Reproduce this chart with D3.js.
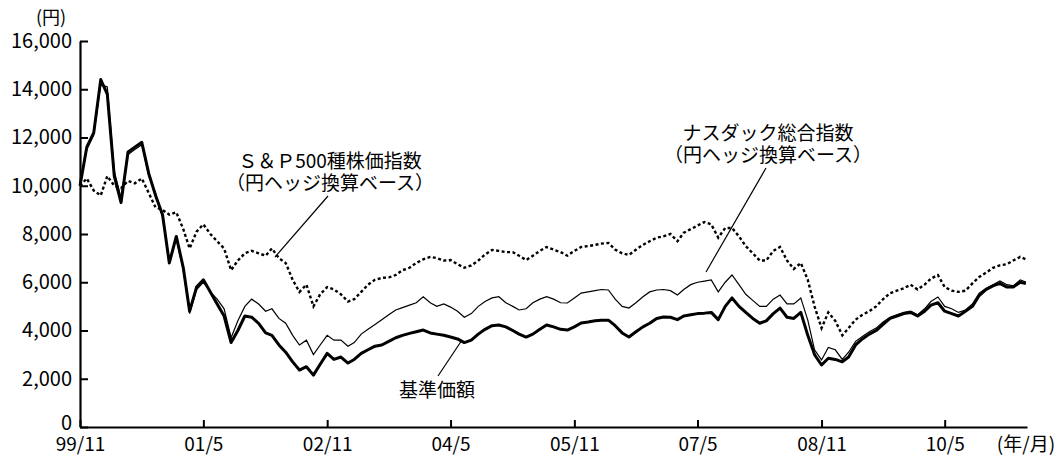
<!DOCTYPE html>
<html>
<head>
<meta charset="utf-8">
<script src="https://cdn.jsdelivr.net/npm/d3@7"></script>
<style>
  body { margin: 0; background: #fff; }
  svg { display: block; font-family: "Noto Sans CJK JP", "Noto Sans", sans-serif; }
</style>
</head>
<body>
<div id="canvas"></div>
<script>
// monthly values, from 1999/11 to 2011/4 plus the last day
let fund = [
  10000, 11600, 12200, 14400, 13800, 10400, 9300, 11400, 11600, 11800, 10500, 9600,
  8800, 6800, 7900, 6600, 4800, 5800, 6100, 5600, 5100, 4600, 3500, 4000,
  4600, 4550, 4300, 3900, 3800, 3400, 3100, 2700, 2360, 2500, 2150, 2600,
  3050, 2800, 2900, 2650, 2800, 3050, 3200, 3350, 3400, 3550, 3700, 3800,
  3880, 3950, 4020, 3900, 3850, 3800, 3730, 3650, 3500, 3600, 3850, 4050,
  4200, 4230, 4150, 4000, 3850, 3730, 3850, 4050, 4230, 4150, 4050, 4020,
  4150, 4310, 4350, 4400, 4420, 4430, 4200, 3900, 3730, 3950, 4150, 4300,
  4500, 4560, 4550, 4450, 4600, 4650, 4700, 4720, 4750, 4450, 5000, 5350,
  5000, 4750, 4500, 4300, 4400, 4700, 4930, 4550, 4500, 4750, 3800, 3000,
  2570, 2850, 2800, 2700, 2900, 3400, 3650, 3850, 4000, 4250, 4500, 4600,
  4700, 4750, 4600, 4800, 5050, 5150, 4800, 4700, 4600, 4800, 5000, 5450,
  5700, 5850, 5950, 5800, 5800, 6000, 5950
]
let nasdaq = [
  10000, 11500, 12100, 14200, 14100, 10600, 9500, 11300, 11500, 11700, 10400, 9700,
  8700, 6900, 7800, 6500, 4700, 5700, 6000, 5600, 5300, 4900, 3700, 4400,
  5000, 5300, 5100, 4800, 4900, 4500, 4300, 3800, 3400, 3600, 3000, 3400,
  3800, 3600, 3600, 3350, 3500, 3850, 4050, 4250, 4450, 4650, 4850, 4950,
  5050, 5150, 5400, 5150, 5000, 5100, 4970, 4800, 4550, 4700, 5000, 5200,
  5350, 5400, 5150, 5000, 4850, 4900, 5150, 5300, 5400, 5300, 5150, 5140,
  5350, 5550, 5600, 5650, 5700, 5680, 5300, 5000, 4930, 5150, 5400, 5600,
  5680, 5700, 5650, 5470, 5700, 5900, 6000, 6050, 6100, 5600, 6000, 6300,
  5900, 5500, 5250, 5000, 5000, 5300, 5470, 5100, 5100, 5350, 4430, 3200,
  2780, 3300, 3200, 2800, 3100, 3550, 3750, 3950, 4100, 4350, 4550, 4650,
  4750, 4800, 4650, 4900, 5200, 5390, 5000, 4900, 4750, 4850, 5100, 5550,
  5750, 5900, 6050, 5900, 5850, 6100, 6010
]
let sp500 = [
  10000, 10300, 9800, 9600, 10400, 10000, 9900, 10200, 10100, 10300, 9700, 9100,
  9000, 8800, 8900, 8200, 7400, 8100, 8400, 8000, 7700, 7400, 6500, 6900,
  7200, 7300, 7200, 7100, 7400, 7000, 6800, 6100, 5600, 5900, 5000, 5500,
  5800, 5700, 5500, 5200, 5300, 5600, 5900, 6100, 6180, 6200, 6300, 6500,
  6600, 6800, 6950, 7050, 7000, 6900, 6920, 6750, 6600, 6700, 6900, 7150,
  7340, 7300, 7250, 7250, 7100, 6920, 7100, 7300, 7460, 7350, 7250, 7100,
  7300, 7460, 7500, 7550, 7600, 7630, 7350, 7200, 7130, 7350, 7550, 7700,
  7850, 7900, 8000, 7700, 8050, 8200, 8350, 8500, 8400, 7850, 8250, 8250,
  7900, 7500, 7200, 6900, 6900, 7300, 7460, 6900, 6550, 6800, 6100, 5000,
  4100, 4750, 4400, 3800, 4100, 4450, 4650, 4800, 5000, 5300, 5550, 5650,
  5750, 5900, 5700, 5900, 6150, 6300, 5800, 5650, 5600, 5650, 5950, 6220,
  6400, 6600, 6700, 6750, 6900, 7050, 6950
]
let yTicks = [0, 2000, 4000, 6000, 8000, 10000, 12000, 14000, 16000]
let xTickDates = ['1999-11', '2001-05', '2002-11', '2004-05', '2005-11', '2007-05', '2008-11', '2010-05']
let xTickLabels = ['99/11', '01/5', '02/11', '04/5', '05/11', '07/5', '08/11', '10/5']

let width = 1064
let height = 457
let mLeft = 80, mRight = 1027, mTop = 41, mBottom = 427

let parseMonth = d3.timeParse('%Y-%m')
let start = parseMonth('1999-11')
let dates = fund.map((d, i) => i < fund.length - 1 ? d3.timeMonth.offset(start, i) : new Date(2011, 3, 26))

let x = d3.scaleTime()
    .domain([start, parseMonth('2011-05')])
    .range([mLeft, mRight])
let y = d3.scaleLinear()
    .domain([0, 16000])
    .range([mBottom, mTop])

let svg = d3.select('#canvas').append('svg')
    .attr('width', width)
    .attr('height', height)

let line = d3.line()
    .x((d, i) => x(dates[i]))
    .y((d) => y(d))

// series
svg.append('path')
    .attr('d', line(sp500))
    .attr('fill', 'none')
    .attr('stroke', '#000')
    .attr('stroke-width', 2.4)
    .attr('stroke-dasharray', '3,2.5')

svg.append('path')
    .attr('d', line(nasdaq))
    .attr('fill', 'none')
    .attr('stroke', '#000')
    .attr('stroke-width', 1.2)

svg.append('path')
    .attr('d', line(fund))
    .attr('fill', 'none')
    .attr('stroke', '#000')
    .attr('stroke-width', 3)
    .attr('stroke-linejoin', 'round')

// axes
let fmt = d3.format(',')
let yAxis = d3.axisLeft(y)
    .tickValues(yTicks)
    .tickFormat((d) => fmt(d))
    .tickSizeInner(-8)
    .tickSizeOuter(0)
    .tickPadding(8)
let xAxis = d3.axisBottom(x)
    .tickValues(xTickDates.map(parseMonth))
    .tickFormat((d, i) => xTickLabels[i])
    .tickSizeInner(-7)
    .tickSizeOuter(0)
    .tickPadding(11)

let gy = svg.append('g')
    .attr('transform', 'translate(' + mLeft + ',0)')
    .call(yAxis)
let gx = svg.append('g')
    .attr('transform', 'translate(0,' + mBottom + ')')
    .call(xAxis)

svg.selectAll('.domain').attr('stroke-width', 2.2)
svg.selectAll('.tick line').attr('stroke-width', 2)
svg.selectAll('.tick text')
    .attr('font-family', '"Noto Sans CJK JP", sans-serif')
    .attr('font-size', 19)
    .attr('fill', '#000')
gy.selectAll('.tick text')
    .attr('font-size', 20)
gy.selectAll('.tick')
    .filter((d) => d === 0)
    .select('text')
    .attr('dy', '0.1em')

svg.append('text')
    .attr('x', 51)
    .attr('y', 24)
    .attr('text-anchor', 'middle')
    .attr('font-size', 18)
    .text('(円)')

svg.append('text')
    .attr('x', 1026)
    .attr('y', 451)
    .attr('text-anchor', 'middle')
    .attr('font-size', 19)
    .text('(年/月)')

// annotations
let notes = [
    { lines: ['Ｓ＆Ｐ500種株価指数', '（円ヘッジ換算ベース）'], cx: 330, cy: 168, from: [328, 196], to: [275, 257] },
    { lines: ['ナスダック総合指数', '（円ヘッジ換算ベース）'], cx: 768, cy: 140, from: [766, 168], to: [706, 272] },
    { lines: ['基準価額'], cx: 437, cy: 397, from: [438, 376], to: [462, 340] }
]

notes.forEach(function (n) {
    let t = svg.append('text')
        .attr('text-anchor', 'middle')
        .attr('font-size', 19)
    n.lines.forEach(function (s, i) {
        t.append('tspan')
            .attr('x', n.cx)
            .attr('y', n.cy + i * 22)
            .text(s)
    })
    svg.append('line')
        .attr('x1', n.from[0])
        .attr('y1', n.from[1])
        .attr('x2', n.to[0])
        .attr('y2', n.to[1])
        .attr('stroke', '#000')
        .attr('stroke-width', 1.2)
})
</script>
</body>
</html>
